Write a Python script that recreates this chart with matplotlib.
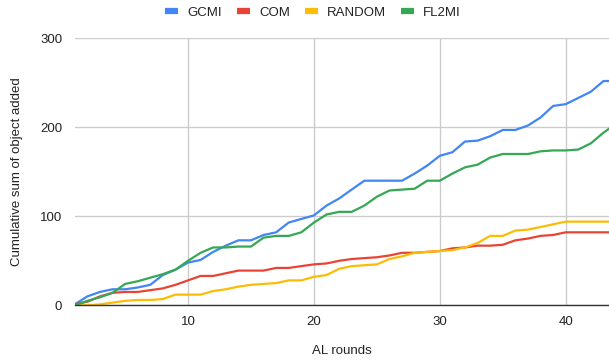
import matplotlib
matplotlib.use("Agg")
import matplotlib.pyplot as plt
from matplotlib.lines import Line2D

rounds = list(range(1, 45))
gcmi = [1, 10, 15, 18, 18, 20, 23, 34, 40, 48,
        51, 60, 67, 73, 73, 79, 82, 93, 97, 101,
        112, 120, 130, 140, 140, 140, 140, 148, 157, 168,
        172, 184, 185, 190, 197, 197, 202, 211, 224, 226,
        233, 240, 252, 252]
com = [1, 4, 10, 14, 15, 15, 17, 19, 23, 28,
       33, 33, 36, 39, 39, 39, 42, 42, 44, 46,
       47, 50, 52, 53, 54, 56, 59, 59, 60, 61,
       64, 65, 67, 67, 68, 73, 75, 78, 79, 82,
       82, 82, 82, 82]
random_ = [0, 0, 1, 3, 5, 6, 6, 7, 12, 12,
           12, 16, 18, 21, 23, 24, 25, 28, 28, 32,
           34, 41, 44, 45, 46, 52, 55, 59, 60, 61,
           62, 65, 70, 78, 78, 84, 85, 88, 91, 94,
           94, 94, 94, 94]
fl2mi = [0, 5, 9, 14, 24, 27, 31, 35, 40, 50,
         59, 65, 65, 66, 66, 76, 78, 78, 82, 93,
         102, 105, 105, 112, 122, 129, 130, 131, 140, 140,
         148, 155, 158, 166, 170, 170, 170, 173, 174, 174,
         175, 182, 194, 204]

series_names = ["GCMI", "COM", "RANDOM", "FL2MI"]
series_vals = [gcmi, com, random_, fl2mi]
colors = ["#4285F4", "#EA4335", "#FBBC04", "#34A853"]
xticks = [10, 20, 30, 40]
yticks = [0, 100, 200, 300]

plt.rcParams['font.family'] = ['Liberation Sans', 'DejaVu Sans']

fig = plt.figure(figsize=(6.09, 3.64), dpi=100)
ax = fig.add_axes([74.7 / 609, 1 - 305.3 / 364, 1 - 74.7 / 609, (305.3 - 38.3) / 364])

for name, vals, c in zip(series_names, series_vals, colors):
    ax.plot(rounds, vals, color=c, linewidth=1.6, label=name, clip_on=True,
            solid_joinstyle='round')

ax.set_xlim(1, 1 + (609 - 74.7) / 12.59)
ax.set_ylim(0, 300)
ax.set_xticks(xticks)
ax.set_yticks(yticks)
ax.grid(True, color="#cccccc", linewidth=1.0)
ax.set_axisbelow(True)
for s in ["top", "right", "left"]:
    ax.spines[s].set_visible(False)
ax.spines["bottom"].set_color("#333333")
ax.spines["bottom"].set_linewidth(1.0)
ax.spines["bottom"].set_zorder(3)
ax.tick_params(axis="both", length=0, labelsize=9.5, colors="#222222", pad=8)
ax.tick_params(axis="y", pad=9)
ax.set_xlabel("AL rounds", fontsize=9.5, color="#222222", labelpad=12)
ax.set_ylabel("Cumulative sum of object added", fontsize=9.5, color="#222222", labelpad=12)

handles = [Line2D([0], [0], color=c, linewidth=4.5, solid_capstyle='butt') for c in colors]
fig.legend(handles, series_names, loc="center", bbox_to_anchor=(0.514, 0.965), ncol=4,
           frameon=False, fontsize=9.5, handlelength=1.0, handletextpad=0.7,
           columnspacing=1.1, labelcolor="#222222")

fig.savefig("out.png", dpi=100)
